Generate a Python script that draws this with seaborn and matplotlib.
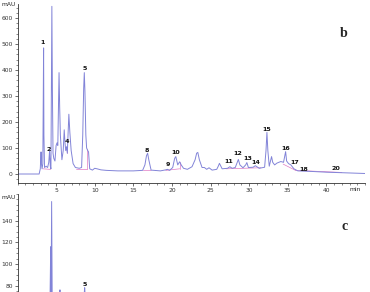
import matplotlib
matplotlib.use("Agg")
import matplotlib.pyplot as plt
from matplotlib.ticker import MultipleLocator
import seaborn as sns
import pandas as pd

# ---- data ----
# panel b trace: retention time (min) and absorbance (mAU)
b_time = [0.0, 2.8, 2.95, 3.05, 3.1, 3.18, 3.28, 3.34, 3.38, 3.42, 3.5, 3.7, 3.9, 4.05, 4.15,
          4.25, 4.33, 4.39, 4.45, 4.52, 4.6, 4.7, 4.85, 5.0, 5.12, 5.22, 5.3, 5.38, 5.46,
          5.55, 5.75, 5.92, 6.05, 6.15, 6.25, 6.35, 6.45, 6.55, 6.65, 6.78, 6.95, 7.2, 7.5,
          8.0, 8.3, 8.45, 8.57, 8.65, 8.73, 8.85, 8.95, 9.1, 9.2, 9.35, 9.7, 10.0, 10.3,
          10.8, 11.5, 13.0, 15.0, 16.2, 16.5, 16.7, 16.85, 17.0, 17.3, 18.5, 19.2, 19.4,
          19.7, 20.1, 20.35, 20.5, 20.75, 21.0, 21.2, 21.5, 22.0, 22.6, 23.0, 23.2, 23.35,
          23.55, 23.9, 24.2, 24.5, 24.8, 25.2, 25.8, 26.0, 26.15, 26.5, 27.2, 27.5, 27.8,
          28.2, 28.45, 28.6, 28.8, 29.2, 29.55, 29.7, 29.9, 30.5, 30.8, 31.3, 32.0, 32.18,
          32.3, 32.42, 32.6, 32.8, 32.9, 33.05, 33.3, 33.6, 34.1, 34.45, 34.62, 34.72,
          34.85, 35.1, 35.4, 35.8, 36.3, 38.0, 40.0, 42.0, 45.0]
b_mau = [0, 0, 20, 85, 40, 20, 40, 300, 485, 150, 25, 30, 25, 45, 88,
         30, 20, 300, 645, 320, 80, 60, 50, 110, 120, 110, 250, 390, 260,
         150, 55, 90, 170, 120, 90, 105, 80, 150, 230, 160, 90, 40, 25,
         22, 25, 150, 330, 390, 320, 150, 100, 90, 85, 20, 15, 22, 20,
         16, 14, 12, 12, 14, 35, 70, 80, 55, 15, 12, 16, 18,
         14, 25, 60, 67, 35, 47, 35, 22, 18, 28, 55, 80, 83,
         55, 25, 25, 18, 24, 15, 18, 30, 41, 20, 22, 28, 22,
         25, 45, 56, 35, 24, 35, 44, 25, 26, 32, 22, 26, 90,
         160, 90, 30, 55, 67, 45, 35, 42, 48, 45, 70, 86,
         50, 40, 35, 20, 12, 10, 7, 5, 2]

# panel b integration baselines (t0, v0, t1, v1)
b_base = [(3.3, 20, 4.2, 18), (4.2, 18, 4.2, 60), (6.1, 95, 6.45, 95), (6.45, 95, 6.45, 80),
          (7.6, 18, 9.0, 18), (9.0, 18, 9.0, 95), (16.3, 13, 17.3, 14),
          (19.2, 14, 21.0, 20), (21.0, 20, 21.0, 45), (27.0, 20, 31.5, 24),
          (34.4, 38, 36.0, 14), (36.0, 14, 42.0, 6)]

# panel b peak labels
b_labels = ["1", "2", "4", "5", "8", "9", "10", "11", "12", "13", "14", "15", "16", "17", "18", "20"]
b_label_t = [3.26, 4.0, 6.45, 8.66, 16.8, 19.45, 20.5, 27.4, 28.55, 29.8, 30.9, 32.3, 34.7, 35.9, 37.0, 41.3]
b_label_v = [504, 95, 124, 404, 92, 35, 83, 50, 77, 59, 46, 172, 97, 45, 18, 22]

# panel c trace
c_time = [0.0, 4.2, 4.3, 4.35, 4.42, 4.5, 5.3, 5.5, 5.6, 8.5, 8.7, 8.85, 45.0]
c_mau = [60, 60, 116, 70, 158, 60, 60, 76, 60, 60, 78, 60, 60]
c_labels = ["5"]
c_label_t = [8.74]
c_label_v = [81]

# ---- plot ----
sns.set_theme(style="ticks")
plt.rcParams["font.family"] = ["DejaVu Sans"]
line_col = "#8284d8"
base_col = "#e07ac4"
W, H = 370, 292
fig = plt.figure(figsize=(W / 100, H / 100), dpi=100)
fig.patch.set_facecolor("white")

def px_axes(x0, y0, x1, y1):
    return fig.add_axes([x0 / W, 1 - y1 / H, (x1 - x0) / W, (y1 - y0) / H])

tick_fs = 4.3

# top panel (b)
ax = px_axes(17.5, 4, 365, 183)
df_b = pd.DataFrame({"t": b_time, "v": b_mau})
for (t0, v0, t1, v1) in b_base:
    ax.plot([t0, t1], [v0, v1], color=base_col, lw=0.5)
sns.lineplot(data=df_b, x="t", y="v", ax=ax, color=line_col, lw=0.7, estimator=None, sort=False)
for lab, t, v in zip(b_labels, b_label_t, b_label_v):
    ax.text(t, v, lab, fontsize=4.6, fontweight="bold", ha="center", va="center", color="#111111")
ax.set_xlim(0, 45)
ax.set_ylim(-34.6, 654)
ax.set_xticks([5, 10, 15, 20, 25, 30, 35, 40])
ax.set_yticks([0, 100, 200, 300, 400, 500, 600])
ax.xaxis.set_minor_locator(MultipleLocator(1))
ax.yaxis.set_minor_locator(MultipleLocator(20))
ax.set_xlabel("")
ax.set_ylabel("")
ax.text(-0.005, 1.0, "mAU", transform=ax.transAxes, fontsize=tick_fs, ha="right", va="center")
ax.text(338 / 347.5, -0.025, "min", transform=ax.transAxes, fontsize=tick_fs, ha="center", va="top")
ax.text(42.3, 541, "b", fontsize=10, fontweight="bold", family="Liberation Serif", ha="center", va="center")

# bottom panel (c)
ax2 = px_axes(17.5, 194, 365, 292)
df_c = pd.DataFrame({"t": c_time, "v": c_mau})
sns.lineplot(data=df_c, x="t", y="v", ax=ax2, color=line_col, lw=0.7, estimator=None, sort=False)
for lab, t, v in zip(c_labels, c_label_t, c_label_v):
    ax2.text(t, v, lab, fontsize=4.6, fontweight="bold", ha="center", va="center", color="#111111")
ax2.set_xlim(0, 45)
ax2.set_ylim(74, 165)
ax2.set_yticks([80, 100, 120, 140])
ax2.yaxis.set_minor_locator(MultipleLocator(5))
ax2.set_xticks([])
ax2.spines["bottom"].set_visible(False)
ax2.set_xlabel("")
ax2.set_ylabel("")
ax2.text(-0.005, 0.965, "mAU", transform=ax2.transAxes, fontsize=tick_fs, ha="right", va="center")
ax2.text(42.3, 135, "c", fontsize=10, fontweight="bold", family="Liberation Serif", ha="center", va="center")

for a in (ax, ax2):
    sns.despine(ax=a)
    a.set_facecolor("white")
    for s in ("left", "bottom"):
        a.spines[s].set_linewidth(0.6)
        a.spines[s].set_color("#333333")
    a.tick_params(axis="both", which="major", labelsize=tick_fs, length=2.5, width=0.5, pad=1, colors="#333333")
    a.tick_params(axis="both", which="minor", length=1.3, width=0.4, colors="#333333")

fig.savefig("out.png", dpi=100, facecolor="white")
